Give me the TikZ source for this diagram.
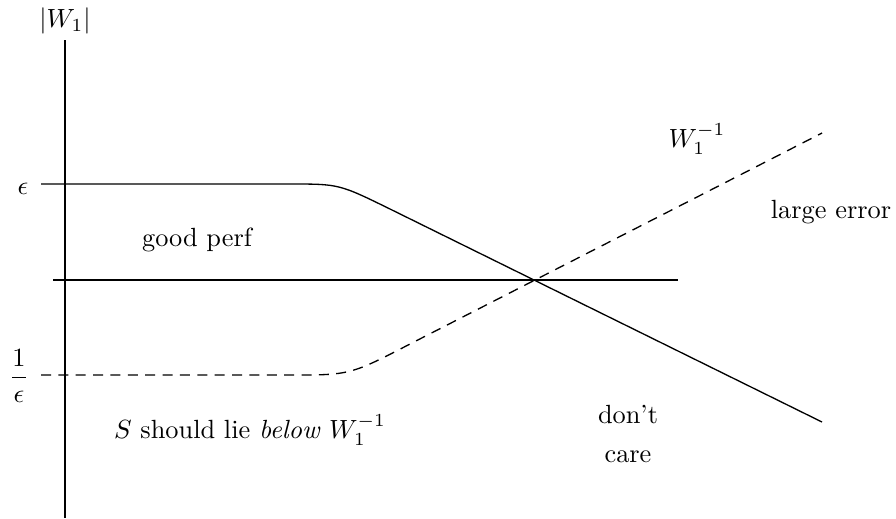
\documentclass[tikz,border=0pt]{standalone}
\begin{document}
\begin{tikzpicture}[x=0.38pt,y=-0.38pt,
  curve/.style={line width=0.5pt},
  dashcurve/.style={line width=0.5pt,dash pattern=on 3.8pt off 2.8pt},
  axis/.style={line width=0.5pt},
  lbl/.style={inner sep=0pt}]
\useasboundingbox (0,0) rectangle (896,518);
% axes
\coordinate (ytop) at (65,40);
\coordinate (ybot) at (65,518);
\coordinate (hl) at (53,280);
\coordinate (hr) at (678,280);
\draw[axis] (ytop) -- (ybot);
\draw[axis] (hl) -- (hr);
% solid curve W1
\coordinate (s0) at (41,184);
\coordinate (s1) at (290,184);
\coordinate (sc) at (339,184);
\coordinate (s2) at (390,209);
\coordinate (s3) at (822,422);
\draw[curve] (s0) -- (s1) .. controls (sc) .. (s2) -- (s3);
% dashed curve W1^{-1}
\coordinate (d0) at (41,375);
\coordinate (d1) at (290,375);
\coordinate (dc) at (350,375);
\coordinate (d2) at (410,344);
\coordinate (d3) at (822,133);
\draw[dashcurve] (d0) -- (d1) .. controls (dc) .. (d2) -- (d3);
% labels
\node[lbl] (w1) at (65,21) {$|W_1|$};
\node[lbl] (eps) at (23,189) {$\epsilon$};
\node[lbl] (inveps) at (19,376) {$\displaystyle\frac{1}{\epsilon}$};
\node[lbl] (good) at (197,240) {good perf};
\node[lbl] (below) at (250,430) {$S$ should lie \textit{below} $W_1^{-1}$};
\node[lbl] (winv) at (697,139) {$W_1^{-1}$};
\node[lbl] (large) at (831,212) {large error};
\node[lbl,align=center] (dont) at (628,434) {don't\\[2.5pt]care};
\end{tikzpicture}
\end{document}
